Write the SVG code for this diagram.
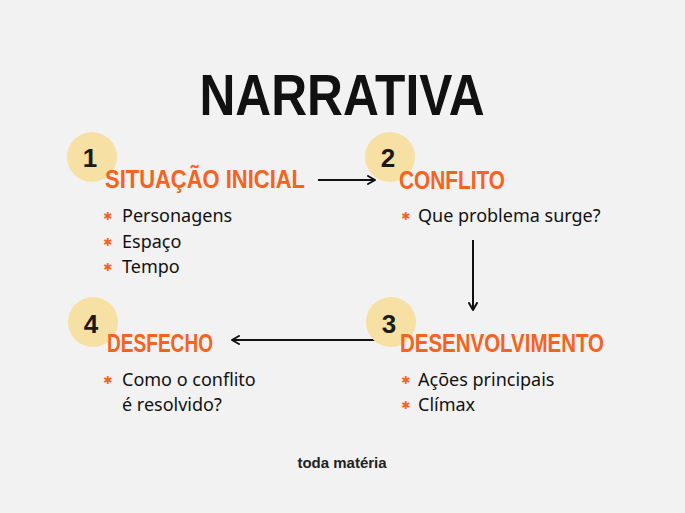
<svg xmlns="http://www.w3.org/2000/svg" width="685" height="513" viewBox="0 0 685 513">
<defs>
<marker id="ah" markerWidth="10" markerHeight="10" refX="8" refY="5" orient="auto" markerUnits="userSpaceOnUse">
<path d="M1,1 L8,5 L1,9" fill="none" stroke="#111" stroke-width="2" stroke-linecap="round" stroke-linejoin="round"/>
</marker>
<style>
.bg{fill:#f2f2f2}
.circ{fill:#f7e0a3}
.num{font-family:"Liberation Sans",sans-serif;font-weight:bold;font-size:26px;fill:#1a1a1a}
.head{font-family:"Liberation Sans Narrow","Liberation Sans",sans-serif;font-weight:bold;font-size:25px;fill:#f5641e}
.item{font-family:"Noto Sans","Liberation Sans",sans-serif;font-size:18px;fill:#111}
.star{font-family:"DejaVu Sans",sans-serif;font-size:11px;fill:#f5641e}
.title{font-family:"Liberation Sans",sans-serif;font-weight:bold;font-size:58px;fill:#111}
.logo{font-family:"Liberation Sans",sans-serif;font-weight:bold;font-size:15px;fill:#222}
.conn{stroke:#111;stroke-width:2;fill:none}
</style>
</defs>
<rect class="bg" x="0" y="0" width="685" height="513"/>
<text class="title" x="342" y="115" text-anchor="middle" textLength="285" lengthAdjust="spacingAndGlyphs">NARRATIVA</text>

<g id="connectors">
<line class="conn" x1="318" y1="180" x2="375" y2="180" marker-end="url(#ah)"/>
<line class="conn" x1="473" y1="240" x2="473" y2="310" marker-end="url(#ah)"/>
<line class="conn" x1="375" y1="340" x2="232" y2="340" marker-end="url(#ah)"/>
</g>

<g id="node1">
<circle class="circ" cx="92" cy="157" r="25"/>
<text class="num" x="90" y="167" text-anchor="middle">1</text>
<text class="head" x="105" y="188" textLength="200" lengthAdjust="spacingAndGlyphs">SITUAÇÃO INICIAL</text>
<text class="star" x="103" y="220">✱</text>
<text class="item" x="122" y="222">Personagens</text>
<text class="star" x="103" y="246">✱</text>
<text class="item" x="122" y="248">Espaço</text>
<text class="star" x="103" y="271">✱</text>
<text class="item" x="122" y="273">Tempo</text>
</g>

<g id="node2">
<circle class="circ" cx="390" cy="157" r="25"/>
<text class="num" x="388" y="167" text-anchor="middle">2</text>
<text class="head" x="399" y="189" textLength="106" lengthAdjust="spacingAndGlyphs">CONFLITO</text>
<text class="star" x="401" y="220">✱</text>
<text class="item" x="418" y="222">Que problema surge?</text>
</g>

<g id="node3">
<circle class="circ" cx="391" cy="322" r="25"/>
<text class="num" x="389" y="333" text-anchor="middle">3</text>
<text class="head" x="400" y="352" textLength="204" lengthAdjust="spacingAndGlyphs">DESENVOLVIMENTO</text>
<text class="star" x="401" y="384">✱</text>
<text class="item" x="418" y="386">Ações principais</text>
<text class="star" x="401" y="409">✱</text>
<text class="item" x="418" y="411">Clímax</text>
</g>

<g id="node4">
<circle class="circ" cx="93" cy="322" r="25"/>
<text class="num" x="91" y="333" text-anchor="middle">4</text>
<text class="head" x="107" y="352" textLength="106" lengthAdjust="spacingAndGlyphs">DESFECHO</text>
<text class="star" x="103" y="384">✱</text>
<text class="item" x="122" y="386">Como o conflito</text>
<text class="item" x="122" y="411">é resolvido?</text>
</g>

<text class="logo" x="342" y="468" text-anchor="middle">toda matéria</text>
</svg>
